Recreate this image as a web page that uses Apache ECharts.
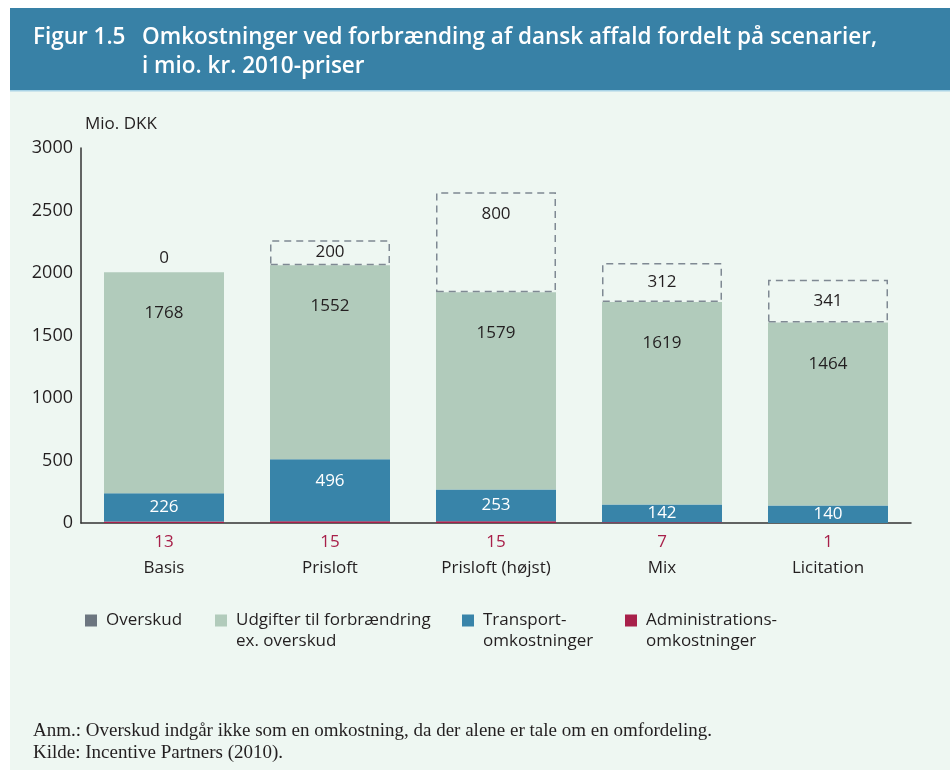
<!DOCTYPE html>
<html>
<head>
<meta charset="utf-8">
<script src="https://cdn.jsdelivr.net/npm/echarts@6/dist/echarts.min.js"></script>
<style>
html,body{margin:0;padding:0;background:#ffffff;}
#chart{width:950px;height:774px;}
</style>
</head>
<body>
<div id="chart"></div>
<script>
// ---- data ----
var categories = ['Basis', 'Prisloft', 'Prisloft (højst)', 'Mix', 'Licitation'];
var overskud = [0, 200, 800, 312, 341];
var udgifter = [1768, 1552, 1579, 1619, 1464];
var transport = [226, 496, 253, 142, 140];
var administration = [13, 15, 15, 7, 1];
var yTicks = [0, 500, 1000, 1500, 2000, 2500, 3000];
var seriesNames = ['Overskud', 'Udgifter til forbrændring\nex. overskud', 'Transport-\nomkostninger', 'Administrations-\nomkostninger'];
var titleLine1 = 'Figur 1.5';
var titleLine2a = 'Omkostninger ved forbrænding af dansk affald fordelt på scenarier,';
var titleLine2b = 'i mio. kr. 2010-priser';
var notes = ['Anm.: Overskud indgår ikke som en omkostning, da der alene er tale om en omfordeling.', 'Kilde: Incentive Partners (2010).'];

// ---- styles ----
var FONT = '"Open Sans", "Noto Sans", sans-serif';
var TXT = '#231f20';
var C_GREEN = '#b1cbbb';
var C_BLUE = '#3884a9';
var C_RED = '#a8204a';
var C_GRAY = '#6c7680';
var C_DASH = '#7f8993';
var TITLE_FONT = '600 22.5px "Open Sans", sans-serif';
var NOTE_FONT = '19px "Liberation Serif", "DejaVu Serif", serif';

var chart = echarts.init(document.getElementById('chart'), null, {renderer: 'canvas'});

var overskudData = overskud.map(function (v) {
  var d = {value: v, itemStyle: {color: 'rgba(0,0,0,0)', borderColor: C_DASH, borderWidth: 1.5, borderType: [7, 5]}};
  if (v === 0) {
    d.itemStyle.borderWidth = 0;
    d.label = {position: 'top', distance: 5};
  } else if (v >= 500) {
    d.label = {position: 'insideTop', distance: 14};
  }
  return d;
});
var transportData = transport.map(function (v, i) {
  var d = {value: v};
  if (i === 1) d.label = {position: 'insideTop', distance: 14};
  return d;
});

function legendAt(name, left, color) {
  var multi = name.indexOf('\n') >= 0;
  return {
    data: [{name: name, itemStyle: {color: color, borderWidth: 0}}],
    left: left, top: multi ? 584 : 605,
    icon: 'rect', itemWidth: 12, itemHeight: 12,
    selectedMode: false,
    formatter: function (n) { return n.indexOf('\n') >= 0 ? ' \n' + n : n; },
    textStyle: {fontFamily: FONT, fontSize: 17, color: TXT, lineHeight: 21, padding: [0, 0, 0, 4]}
  };
}

var option = {
  animation: false,
  backgroundColor: '#ffffff',
  graphic: [
    {type: 'rect', z: -10, shape: {x: 10, y: 91, width: 940, height: 679}, style: {fill: '#eef7f2'}},
    {type: 'rect', z: -9, shape: {x: 10, y: 8, width: 940, height: 83}, style: {fill: '#3881a6'}},
    {type: 'rect', z: -9, shape: {x: 10, y: 90, width: 940, height: 1.5}, style: {fill: '#a9d3e6'}},
    {type: 'text', left: 33, top: 26, style: {text: titleLine1, font: TITLE_FONT, fill: '#ffffff'}},
    {type: 'text', left: 142, top: 26, style: {text: titleLine2a, font: TITLE_FONT, fill: '#ffffff'}},
    {type: 'text', left: 142, top: 55, style: {text: titleLine2b, font: TITLE_FONT, fill: '#ffffff'}},
    {type: 'text', left: 85, top: 116, style: {text: 'Mio. DKK', font: '17px ' + FONT, fill: TXT}},
    {type: 'text', left: 33, top: 722, style: {text: notes[0], font: NOTE_FONT, fill: TXT}},
    {type: 'text', left: 33, top: 744, style: {text: notes[1], font: NOTE_FONT, fill: TXT}}
  ],
  legend: [
    legendAt(seriesNames[0], 80, C_GRAY),
    legendAt(seriesNames[1], 210, C_GREEN),
    legendAt(seriesNames[2], 457, C_BLUE),
    legendAt(seriesNames[3], 620, C_RED)
  ],
  grid: {left: 81, top: 148, width: 830, height: 375, containLabel: false},
  xAxis: {
    type: 'category',
    data: categories,
    axisLine: {show: true, lineStyle: {color: '#333333', width: 1.5}},
    axisTick: {show: false},
    axisLabel: {margin: 37, fontFamily: FONT, fontSize: 17, color: TXT}
  },
  yAxis: {
    type: 'value',
    min: 0, max: 3000, interval: 500,
    axisLine: {show: true, lineStyle: {color: '#333333', width: 1.5}},
    axisTick: {show: false},
    splitLine: {show: false},
    axisLabel: {
      margin: 8, fontFamily: FONT, fontSize: 18, color: TXT,
      formatter: function (v) { return yTicks.indexOf(v) >= 0 ? String(v) : ''; }
    }
  },
  series: [
    {
      name: seriesNames[3], type: 'bar', stack: 's', barWidth: 120,
      data: administration,
      itemStyle: {color: C_RED},
      label: {show: true, position: 'bottom', distance: 11, fontFamily: FONT, fontSize: 17, color: C_RED}
    },
    {
      name: seriesNames[2], type: 'bar', stack: 's', barWidth: 120,
      data: transportData,
      itemStyle: {color: C_BLUE},
      label: {show: true, position: 'inside', fontFamily: FONT, fontSize: 17, color: '#ffffff'}
    },
    {
      name: seriesNames[1], type: 'bar', stack: 's', barWidth: 120,
      data: udgifter,
      itemStyle: {color: C_GREEN},
      label: {show: true, position: 'insideTop', distance: 33, fontFamily: FONT, fontSize: 17, color: TXT}
    },
    {
      name: seriesNames[0], type: 'bar', stack: 's', barWidth: 120,
      data: overskudData,
      itemStyle: {color: C_GRAY},
      label: {show: true, position: 'inside', fontFamily: FONT, fontSize: 17, color: TXT}
    }
  ]
};
chart.setOption(option);
</script>
</body>
</html>
